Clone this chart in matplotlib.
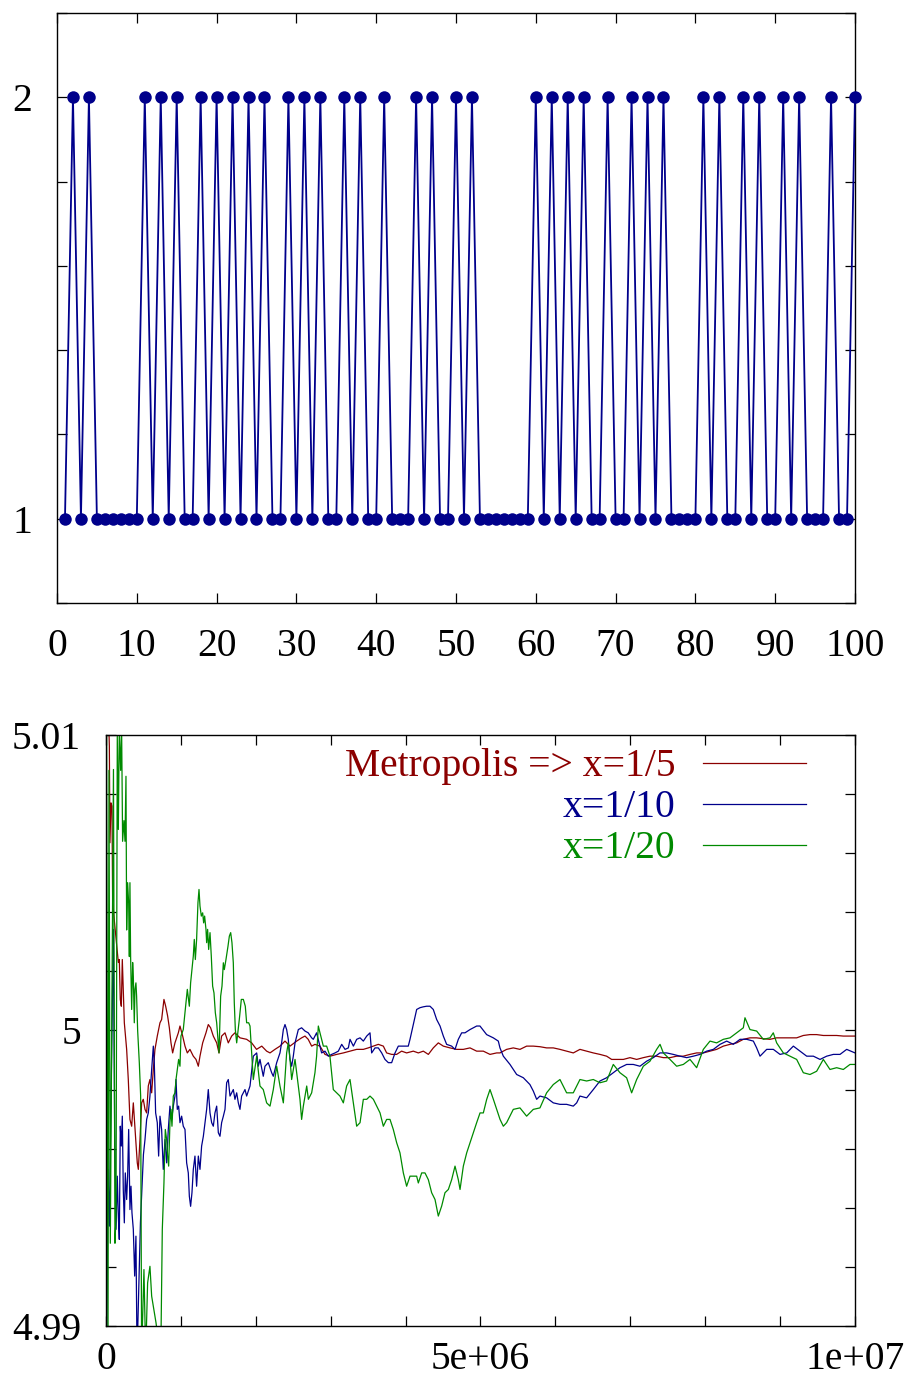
import numpy as np
import matplotlib
matplotlib.use("Agg")
import matplotlib.pyplot as plt

plt.rcParams['font.family'] = ['Liberation Serif', 'DejaVu Serif']

# ---------------- top panel data ----------------
steps = list(range(1, 101))
state_two_steps = [2, 4, 11, 13, 15, 18, 20, 22, 24, 26, 29, 31, 33, 36, 38, 41, 45, 47, 50, 52,
                   60, 62, 64, 66, 69, 72, 74, 76, 81, 83, 86, 88, 91, 93, 97, 100]
states = [2 if s in state_two_steps else 1 for s in steps]
top_xticks = [0, 10, 20, 30, 40, 50, 60, 70, 80, 90, 100]
top_yticks = [0.8, 1.0, 1.2, 1.4, 1.6, 1.8, 2.0, 2.2]
top_ylabels = ['', '1', '', '', '', '', '2', '']

# ---------------- bottom panel data (t in millions of steps, dev in units of 1e-3 from 5) ----------------
red_t = [0.02, 0.045, 0.053, 0.067, 0.08, 0.089, 0.165, 0.178, 0.191, 0.205, 0.218, 0.231, 0.245,
         0.276, 0.298, 0.32, 0.343, 0.365, 0.383, 0.40, 0.418, 0.432, 0.454, 0.476, 0.498, 0.521,
         0.543, 0.565, 0.587, 0.61, 0.632, 0.654, 0.685, 0.721, 0.743, 0.774, 0.797, 0.823, 0.846,
         0.868, 0.89, 0.921, 0.966, 0.988, 1.024, 1.055, 1.086, 1.121, 1.166, 1.202, 1.233, 1.255,
         1.291, 1.335, 1.366, 1.397, 1.433, 1.478, 1.509, 1.544, 1.589, 1.633, 1.678, 1.722, 1.789,
         1.878, 1.945, 2.01, 2.08, 2.145, 2.19, 2.256, 2.323, 2.39, 2.457, 2.546, 2.612, 2.657, 2.70,
         2.746, 2.79, 2.857, 2.924, 2.99, 3.08, 3.169, 3.258, 3.347, 3.436, 3.502, 3.569, 3.636,
         3.703, 3.747, 3.814, 3.88, 3.947, 4.014, 4.103, 4.17, 4.237, 4.304, 4.37, 4.437, 4.504,
         4.593, 4.682, 4.771, 4.86, 4.949, 5.038, 5.127, 5.216, 5.26, 5.349, 5.438, 5.527, 5.616,
         5.705, 5.794, 5.883, 5.972, 6.061, 6.15, 6.239, 6.328, 6.417, 6.506, 6.595, 6.684, 6.751,
         6.818, 6.907, 6.996, 7.085, 7.174, 7.263, 7.352, 7.441, 7.53, 7.619, 7.708, 7.797, 7.886,
         7.975, 8.064, 8.153, 8.242, 8.331, 8.42, 8.509, 8.598, 8.687, 8.776, 8.865, 8.954, 9.043,
         9.132, 9.221, 9.31, 9.399, 9.488, 9.577, 9.666, 9.755, 9.844, 9.933, 10.0]
red_dev = [12.0, 9.62, 6.35, 7.70, 7.59, 4.32, 2.30, 2.40, 1.05, 0.82, 2.40, 1.39, 0.26,
           -0.64, -1.66, -3.01, -3.24, -2.45, -3.12, -3.80, -4.48, -4.70, -3.69, -2.45, -2.33, -2.67,
           -2.79, -1.88, -1.66, -2.11, -1.32, -0.64, -0.19, 0.26, 0.37, 1.05, 0.82, 0.49, 0.09,
           -0.42, -0.76, -0.42, -0.08, 0.15, -0.19, -0.53, -0.76, -0.64, -0.87, -0.98, -1.21, -0.87,
           -0.42, -0.08, 0.20, 0.09, -0.19, -0.42, -0.76, -0.19, -0.08, -0.42, -0.19, -0.08, -0.25,
           -0.30, -0.42, -0.64, -0.53, -0.70, -0.76, -0.64, -0.53, -0.36, -0.53, -0.36, -0.25, -0.19, -0.30,
           -0.53, -0.47, -0.53, -0.81, -0.87, -0.81, -0.76, -0.70, -0.64, -0.64, -0.59, -0.53, -0.47,
           -0.53, -0.76, -0.81, -0.81, -0.70, -0.76, -0.70, -0.76, -0.70, -0.81, -0.59, -0.42, -0.53,
           -0.59, -0.64, -0.64, -0.59, -0.70, -0.70, -0.81, -0.76, -0.76, -0.64, -0.59, -0.64, -0.53,
           -0.53, -0.55, -0.59, -0.59, -0.64, -0.70, -0.76, -0.64, -0.70, -0.76, -0.81, -0.87, -0.98,
           -0.98, -0.98, -0.92, -0.98, -0.92, -0.87, -0.87, -0.92, -0.92, -0.87, -0.87, -0.81, -0.76,
           -0.76, -0.70, -0.64, -0.53, -0.47, -0.42, -0.30, -0.25, -0.25, -0.28, -0.30, -0.25, -0.25,
           -0.25, -0.25, -0.17, -0.14, -0.14, -0.17, -0.17, -0.17, -0.19, -0.19, -0.19]

blue_t = [0.005, 0.027, 0.045, 0.062, 0.098, 0.116, 0.134, 0.151, 0.165, 0.178, 0.191, 0.205, 0.218,
          0.231, 0.245, 0.258, 0.276, 0.289, 0.303, 0.32, 0.334, 0.347, 0.365, 0.383, 0.40, 0.415,
          0.46, 0.50, 0.521, 0.543, 0.565, 0.587, 0.61, 0.632, 0.645, 0.663, 0.685, 0.703, 0.721,
          0.743, 0.765, 0.788, 0.81, 0.832, 0.854, 0.877, 0.899, 0.921, 0.935, 0.952, 0.97, 0.988,
          1.01, 1.032, 1.055, 1.077, 1.099, 1.113, 1.13, 1.148, 1.166, 1.188, 1.21, 1.233, 1.255,
          1.277, 1.30, 1.322, 1.344, 1.366, 1.389, 1.411, 1.433, 1.455, 1.478, 1.50, 1.522, 1.544,
          1.567, 1.589, 1.611, 1.633, 1.656, 1.678, 1.70, 1.722, 1.745, 1.767, 1.789, 1.811, 1.834,
          1.856, 1.878, 1.923, 1.967, 2.012, 2.034, 2.056, 2.10, 2.123, 2.167, 2.212, 2.234, 2.279,
          2.323, 2.345, 2.368, 2.39, 2.412, 2.434, 2.457, 2.479, 2.501, 2.524, 2.546, 2.568, 2.612,
          2.657, 2.70, 2.746, 2.768, 2.812, 2.857, 2.879, 2.924, 2.968, 3.013, 3.058, 3.102, 3.147,
          3.192, 3.236, 3.258, 3.303, 3.347, 3.392, 3.436, 3.481, 3.525, 3.547, 3.592, 3.636, 3.681,
          3.725, 3.77, 3.814, 3.859, 3.903, 3.947, 3.992, 4.036, 4.059, 4.103, 4.148, 4.192, 4.237,
          4.281, 4.326, 4.37, 4.415, 4.46, 4.504, 4.548, 4.615, 4.66, 4.704, 4.749, 4.793, 4.86,
          4.905, 4.949, 4.993, 5.082, 5.171, 5.238, 5.26, 5.305, 5.394, 5.483, 5.572, 5.66, 5.705,
          5.75, 5.794, 5.883, 5.972, 6.061, 6.15, 6.239, 6.284, 6.328, 6.417, 6.506, 6.595, 6.684,
          6.773, 6.862, 6.951, 7.04, 7.129, 7.218, 7.307, 7.396, 7.485, 7.574, 7.664, 7.753, 7.842,
          7.931, 8.02, 8.109, 8.198, 8.287, 8.376, 8.465, 8.554, 8.643, 8.687, 8.732, 8.821, 8.91,
          8.999, 9.088, 9.177, 9.266, 9.355, 9.444, 9.533, 9.622, 9.711, 9.80, 9.889, 10.0]
blue_dev = [-12.0, -4.70, -6.62, -3.35, 3.42, -3.35, -6.73, -4.93, -6.28, -7.07, -3.24, -3.91, -2.90,
            -5.38, -6.51, -4.82, -5.72, -4.93, -3.35, -6.06, -5.27, -6.17, -6.73, -8.31, -6.96, -11.0,
            -6.5, -4.2, -3.69, -3.01, -2.79, -2.22, -1.32, -0.53, -1.09, -2.79, -3.12, -4.25, -2.90,
            -3.35, -4.70, -3.69, -4.48, -3.35, -2.56, -3.01, -2.56, -2.22, -1.66, -2.67, -2.56, -3.12,
            -2.90, -3.24, -3.35, -4.48, -4.82, -5.61, -5.95, -5.49, -4.70, -4.25, -5.27, -4.25, -4.70,
            -3.91, -3.58, -3.12, -2.67, -2.00, -2.79, -3.12, -3.24, -2.79, -2.56, -3.46, -3.58, -3.12,
            -2.90, -2.67, -1.77, -1.66, -2.22, -2.11, -2.00, -2.33, -2.11, -2.45, -2.67, -2.22, -2.11,
            -2.00, -2.22, -1.88, -0.87, -0.76, -1.21, -0.98, -1.55, -1.21, -1.09, -1.43, -1.55, -1.09,
            -0.76, -0.42, 0.03, 0.20, 0.03, -0.30, -0.98, -1.21, -0.87, -0.42, -0.19, 0.03, 0.09,
            -0.02, -0.08, -0.25, -0.30, -0.08, -0.53, -0.76, -0.70, -0.87, -0.81, -0.76, -0.70, -0.47,
            -0.64, -0.59, -0.30, -0.53, -0.30, -0.25, -0.36, -0.19, -0.08, -0.76, -0.59, -0.59, -0.76,
            -0.98, -1.09, -1.09, -0.76, -0.53, -0.53, -0.53, -0.53, -0.30, 0.20, 0.71, 0.77, 0.80,
            0.82, 0.82, 0.71, 0.37, 0.15, -0.19, -0.47, -0.53, -0.64, -0.30, -0.08, -0.08, 0.03,
            0.09, 0.15, 0.15, -0.14, -0.25, -0.36, -0.59, -0.87, -1.15, -1.49, -1.60, -1.83, -2.05,
            -2.33, -2.22, -2.28, -2.45, -2.50, -2.50, -2.56, -2.45, -2.22, -2.28, -2.00, -1.71, -1.60,
            -1.43, -1.26, -1.15, -1.15, -1.21, -1.04, -0.92, -0.76, -0.76, -0.81, -0.87, -0.92, -0.87,
            -0.81, -0.70, -0.64, -0.47, -0.36, -0.47, -0.30, -0.30, -0.36, -0.59, -0.87, -0.64, -0.64,
            -0.81, -0.76, -0.53, -0.70, -0.87, -0.87, -0.98, -0.87, -0.81, -0.81, -0.64, -0.76]

green_t = [0.005, 0.027, 0.04, 0.058, 0.100, 0.12, 0.134, 0.151, 0.165, 0.178, 0.196, 0.209, 0.222,
           0.24, 0.254, 0.267, 0.276, 0.289, 0.303, 0.312, 0.32, 0.329, 0.343, 0.356, 0.365, 0.378,
           0.387, 0.40, 0.409, 0.423, 0.445, 0.463, 0.476, 0.507, 0.53, 0.556, 0.587, 0.61, 0.632,
           0.668, 0.699, 0.734, 0.752, 0.774, 0.792, 0.81, 0.823, 0.837, 0.854, 0.868, 0.881, 0.899,
           0.921, 0.935, 0.952, 0.97, 0.988, 1.001, 1.032, 1.086, 1.113, 1.13, 1.148, 1.166, 1.179,
           1.193, 1.21, 1.228, 1.242, 1.255, 1.273, 1.291, 1.304, 1.317, 1.335, 1.344, 1.357, 1.371,
           1.389, 1.406, 1.424, 1.442, 1.46, 1.478, 1.509, 1.531, 1.549, 1.567, 1.58, 1.602, 1.629,
           1.647, 1.665, 1.682, 1.70, 1.713, 1.727, 1.745, 1.78, 1.807, 1.834, 1.86, 1.878, 1.905,
           1.923, 1.967, 2.012, 2.056, 2.10, 2.145, 2.19, 2.234, 2.279, 2.323, 2.368, 2.412, 2.434,
           2.457, 2.479, 2.524, 2.568, 2.59, 2.612, 2.635, 2.68, 2.702, 2.746, 2.79, 2.812, 2.835,
           2.857, 2.902, 2.946, 2.99, 3.035, 3.08, 3.124, 3.169, 3.213, 3.258, 3.303, 3.347, 3.392,
           3.436, 3.481, 3.525, 3.57, 3.614, 3.659, 3.703, 3.747, 3.792, 3.836, 3.881, 3.925, 3.97,
           4.014, 4.059, 4.103, 4.148, 4.17, 4.215, 4.259, 4.304, 4.348, 4.393, 4.437, 4.482, 4.526,
           4.571, 4.615, 4.66, 4.704, 4.727, 4.771, 4.816, 4.86, 4.905, 4.949, 4.994, 5.038, 5.083,
           5.127, 5.172, 5.216, 5.261, 5.305, 5.349, 5.438, 5.527, 5.616, 5.705, 5.794, 5.883, 5.972,
           6.061, 6.15, 6.239, 6.328, 6.417, 6.506, 6.595, 6.684, 6.773, 6.862, 6.951, 7.018, 7.085,
           7.174, 7.263, 7.352, 7.397, 7.441, 7.53, 7.619, 7.708, 7.797, 7.886, 7.975, 8.064, 8.153,
           8.242, 8.331, 8.42, 8.509, 8.531, 8.598, 8.687, 8.776, 8.865, 8.909, 8.954, 9.043, 9.132,
           9.221, 9.31, 9.399, 9.488, 9.577, 9.666, 9.755, 9.844, 9.933, 10.0]
green_dev = [14.0, -11.0, 8.8, -7.2, 8.83, -7.2, -6.3, 9.96, 6.8, 10.2, 8.8, 10.2, 6.4,
             7.1, 6.4, 8.6, 3.4, 5.0, 4.3, 2.5, 5.0, 2.5, 0.71, 2.30, 1.84, 0.26,
             1.39, 1.61, 1.16, -0.01, -1.09, -2.22, -11.0, -8.09, -11.0, -8.54, -7.98, -8.99, -9.33,
             -9.89, -10.5, -10.5, -6.73, -5.16, -3.35, -3.69, -4.25, -4.59, -3.12, -2.67, -3.24, -2.22,
             -2.11, -1.66, -1.32, -0.98, -1.21, -0.19, 0.03, 1.39, 0.82, 1.61, 2.06, 2.52, 3.08,
             2.40, 3.08, 4.32, 4.77, 4.21, 3.87, 3.98, 3.64, 3.87, 3.42, 2.97, 3.42, 2.74,
             3.31, 2.52, 1.50, 1.27, 0.60, 0.26, -0.76, 1.16, 1.50, 2.29, 2.06, 2.40, 2.85,
             3.19, 3.31, 2.97, 2.29, 0.94, 0.03, -0.42, 0.37, 1.05, 1.05, 0.82, 0.26, 0.26,
             0.15, -1.66, -0.87, -1.88, -2.00, -2.45, -2.56, -2.00, -1.21, -1.88, -2.45, -0.76, -0.42,
             -0.98, -1.66, -0.98, -1.88, -2.33, -3.01, -2.56, -1.88, -2.33, -2.11, -1.43, -0.87, 0.15,
             -0.08, -0.53, -0.53, -0.87, -2.00, -2.11, -2.22, -2.45, -1.88, -1.66, -2.45, -3.24, -3.12,
             -2.33, -2.33, -2.22, -2.33, -2.56, -2.79, -3.24, -3.01, -3.01, -3.35, -3.80, -4.14, -4.82,
             -5.27, -4.93, -4.93, -4.93, -5.16, -4.82, -4.82, -5.05, -5.49, -5.72, -6.28, -5.94, -5.49,
             -5.38, -5.05, -4.59, -5.05, -5.38, -4.59, -4.14, -3.80, -3.46, -3.12, -2.79, -2.79, -2.33,
             -2.00, -2.33, -2.67, -3.01, -3.24, -3.12, -2.67, -2.62, -2.90, -2.67, -2.62, -2.11, -1.83,
             -1.66, -2.11, -2.11, -1.66, -1.71, -1.66, -1.77, -1.71, -1.15, -1.43, -1.60, -2.11, -1.66,
             -1.21, -1.04, -0.64, -0.47, -0.76, -0.98, -1.21, -1.15, -0.98, -1.26, -0.64, -0.36, -0.42,
             -0.30, -0.25, -0.08, 0.09, 0.43, 0.03, -0.02, -0.30, -0.25, -0.08, -0.42, -0.76, -0.87,
             -0.98, -1.43, -1.49, -1.38, -0.98, -1.32, -1.26, -1.32, -1.15, -1.15]

series_labels = ['Metropolis => x=1/5', 'x=1/10', 'x=1/20']
series_colors = ['#8b0000', '#00008b', '#008a00']
bottom_xticks = [0, 1e6, 2e6, 3e6, 4e6, 5e6, 6e6, 7e6, 8e6, 9e6, 1e7]
bottom_xlabels = ['0', '', '', '', '', '5e+06', '', '', '', '', '1e+07']
bottom_yticks = [4.99, 4.992, 4.994, 4.996, 4.998, 5.0, 5.002, 5.004, 5.006, 5.008, 5.01]
bottom_ylabels = ['4.99', '', '', '', '', '5', '', '', '', '', '5.01']

FS = 28.5

fig = plt.figure(figsize=(9.12, 13.84), dpi=100)
ax1 = fig.add_axes([0.0625, 0.5643, 0.875, 0.4263])
ax2 = fig.add_axes([0.1162, 0.0419, 0.8213, 0.4271])

navy = '#00008b'
ax1.plot(steps, states, color=navy, lw=1.3, marker='o', markersize=9,
         markeredgewidth=0, clip_on=False, zorder=3)
ax1.set_xlim(0, 100)
ax1.set_ylim(0.8, 2.2)
ax1.set_xticks(top_xticks)
ax1.set_xticklabels([str(v) for v in top_xticks])
ax1.set_yticks(top_yticks)
ax1.set_yticklabels(top_ylabels)

for t, d, lab, col in zip([red_t, blue_t, green_t], [red_dev, blue_dev, green_dev],
                          series_labels, series_colors):
    x = np.array(t) * 1e6
    y = 5.0 + np.array(d) * 1e-3
    ax2.plot(x, y, color=col, lw=0.9, label=lab)

ax2.set_xlim(0, 1e7)
ax2.set_ylim(4.99, 5.01)
ax2.set_xticks(bottom_xticks)
ax2.set_xticklabels(bottom_xlabels)
ax2.set_yticks(bottom_yticks)
ax2.set_yticklabels(bottom_ylabels)

leg = ax2.legend(loc='upper right', bbox_to_anchor=(0.9346, 0.977), frameon=False,
                 markerfirst=False, fontsize=FS,
                 handlelength=2.6, handletextpad=0.7, borderpad=0.0,
                 borderaxespad=0.0, labelspacing=0.1)
for txt, col in zip(leg.get_texts(), series_colors):
    txt.set_color(col)
    txt.set_ha('right')
leg._legend_box.align = 'right'

for ax in (ax1, ax2):
    for sp in ax.spines.values():
        sp.set_linewidth(1.0)
        sp.set_color('black')
    ax.tick_params(axis='both', which='both', direction='in', length=7, width=0.9,
                   top=True, right=True, labelsize=FS, pad=18, colors='black')
ax2.tick_params(axis='x', pad=11)

fig.savefig('out.png', dpi=100)
